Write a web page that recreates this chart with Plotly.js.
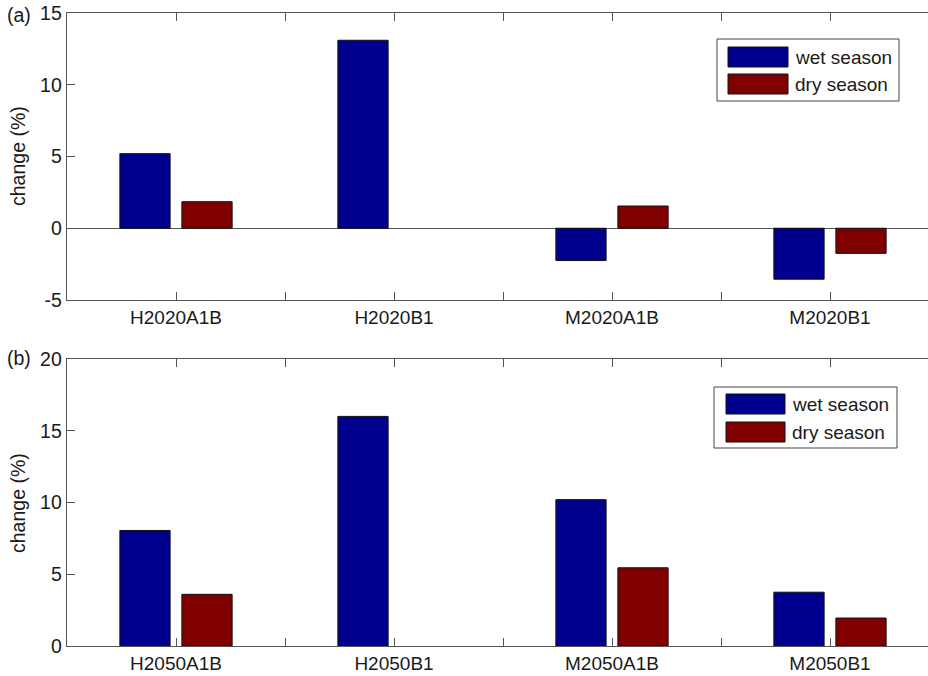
<!DOCTYPE html>
<html>
<head>
<meta charset="utf-8">
<script src="https://cdn.plot.ly/plotly-3.0.1.min.js"></script>
<style>
html,body{margin:0;padding:0;overflow:hidden;background:#fff;}
#chart{width:940px;height:676px;}
</style>
</head>
<body>
<div id="chart"></div>
<script>
// ---- data ----
const categoriesA = ["H2020A1B", "H2020B1", "M2020A1B", "M2020B1"];
const categoriesB = ["H2050A1B", "H2050B1", "M2050A1B", "M2050B1"];
const wetA = [5.2, 13.1, -2.25, -3.55];
const dryA = [1.85, null, 1.55, -1.75];
const wetB = [8.05, 16.0, 10.2, 3.75];
const dryB = [3.6, null, 5.45, 1.95];
const seriesNames = ["wet season", "dry season"];
const panelLabels = ["(a)", "(b)"];
const yTitle = "change (%)";
const yTicksA = [-5, 0, 5, 10, 15];
const yTicksB = [0, 5, 10, 15, 20];

// ---- styling ----
const BLUE = "#00008f";
const RED = "#800000";
const FONT = "Liberation Sans, Arial, sans-serif";
const TXT = "#1a1a1a";
const AX = "#555";

const W = 940, H = 676;
const M = {l: 67, r: 1, t: 13, b: 30};
const PW = W - M.l - M.r, PH = H - M.t - M.b;
const px2x = p => (p - M.l) / PW;
const py2y = p => (H - M.b - p) / PH;

const idx = arr => arr.map((_, i) => i + 1);

function barTrace(cats, vals, color, name, xa, ya) {
  return {
    type: "bar", x: idx(cats), y: vals, name: name,
    xaxis: xa, yaxis: ya, showlegend: false,
    marker: {color: color, line: {color: "#111", width: 1}},
    hoverinfo: "y"
  };
}

const data = [
  barTrace(categoriesA, wetA, BLUE, seriesNames[0], "x", "y"),
  barTrace(categoriesA, dryA, RED, seriesNames[1], "x", "y"),
  barTrace(categoriesB, wetB, BLUE, seriesNames[0], "x2", "y2"),
  barTrace(categoriesB, dryB, RED, seriesNames[1], "x2", "y2")
];

function tickSpec(cats) {
  const vals = [], text = [];
  for (let i = 0; i <= cats.length * 2; i++) {
    const v = 0.5 + i * 0.5;
    vals.push(v);
    text.push(Number.isInteger(v) ? cats[v - 1] : "");
  }
  return {vals, text};
}
const tA = tickSpec(categoriesA), tB = tickSpec(categoriesB);

const xBase = {
  range: [0.5, categoriesA.length + 0.5],
  showline: true, linecolor: AX, linewidth: 1.3, mirror: "ticks",
  ticks: "inside", ticklen: 8, tickcolor: AX, tickwidth: 1,
  showgrid: false, zeroline: false,
  tickfont: {family: FONT, size: 19, color: TXT},
  tickmode: "array", fixedrange: true
};
const yBase = {
  showline: true, linecolor: AX, linewidth: 1.3, mirror: "ticks",
  ticks: "inside", ticklen: 8, tickcolor: AX, tickwidth: 1,
  showgrid: false, tickmode: "array",
  tickfont: {family: FONT, size: 19.5, color: TXT},
  ticklabelstandoff: 0, fixedrange: true
};

const topDom = [py2y(300), 1];
const botDom = [0, py2y(359)];

// custom legends
function legend(box, sw1, sw2, textX) {
  const shapes = [
    {type: "rect", xref: "paper", yref: "paper", x0: px2x(box[0]), x1: px2x(box[1]), y0: py2y(box[3]), y1: py2y(box[2]),
     line: {color: "#444", width: 1}, fillcolor: "#fff"},
    {type: "rect", xref: "paper", yref: "paper", x0: px2x(sw1[0]), x1: px2x(sw1[1]), y0: py2y(sw1[3]), y1: py2y(sw1[2]),
     line: {color: "#111", width: 1}, fillcolor: BLUE},
    {type: "rect", xref: "paper", yref: "paper", x0: px2x(sw2[0]), x1: px2x(sw2[1]), y0: py2y(sw2[3]), y1: py2y(sw2[2]),
     line: {color: "#111", width: 1}, fillcolor: RED}
  ];
  const ann = [
    {xref: "paper", yref: "paper", x: px2x(textX), y: py2y((sw1[2] + sw1[3]) / 2), xanchor: "left", yanchor: "middle",
     text: seriesNames[0], showarrow: false, font: {family: FONT, size: 19, color: TXT}},
    {xref: "paper", yref: "paper", x: px2x(textX), y: py2y((sw2[2] + sw2[3]) / 2), xanchor: "left", yanchor: "middle",
     text: seriesNames[1], showarrow: false, font: {family: FONT, size: 19, color: TXT}}
  ];
  return {shapes, ann};
}
const legA = legend([717, 899, 39, 101], [728, 788, 47, 67], [728, 788, 74, 94], 793);
const legB = legend([714, 897, 387, 448], [726, 785, 394, 414], [726, 785, 422, 442], 790);

const annotations = [
  {xref: "paper", yref: "paper", x: px2x(5), y: py2y(15), xanchor: "left", yanchor: "middle",
   text: panelLabels[0], showarrow: false, font: {family: FONT, size: 19.5, color: TXT}},
  {xref: "paper", yref: "paper", x: px2x(5), y: py2y(358), xanchor: "left", yanchor: "middle",
   text: panelLabels[1], showarrow: false, font: {family: FONT, size: 19.5, color: TXT}},
  {xref: "paper", yref: "paper", x: px2x(18), y: py2y(156), xanchor: "center", yanchor: "middle",
   text: yTitle, textangle: -90, showarrow: false, font: {family: FONT, size: 19.5, color: TXT}},
  {xref: "paper", yref: "paper", x: px2x(18), y: py2y(503), xanchor: "center", yanchor: "middle",
   text: yTitle, textangle: -90, showarrow: false, font: {family: FONT, size: 19.5, color: TXT}}
].concat(legA.ann, legB.ann);

const layout = {
  width: W, height: H,
  margin: M,
  paper_bgcolor: "#fff", plot_bgcolor: "#fff",
  barmode: "group", bargap: 0.431, bargroupgap: 0.19,
  showlegend: false,
  xaxis: Object.assign({}, xBase, {domain: [0, 1], anchor: "y", tickvals: tA.vals, ticktext: tA.text}),
  yaxis: Object.assign({}, yBase, {domain: topDom, anchor: "x", range: [-5, 15],
    tickvals: yTicksA, ticktext: yTicksA.map(String),
    zeroline: true, zerolinecolor: AX, zerolinewidth: 1}),
  xaxis2: Object.assign({}, xBase, {domain: [0, 1], anchor: "y2", tickvals: tB.vals, ticktext: tB.text}),
  yaxis2: Object.assign({}, yBase, {domain: botDom, anchor: "x2", range: [0, 20],
    tickvals: yTicksB, ticktext: yTicksB.map(String), zeroline: false}),
  shapes: legA.shapes.concat(legB.shapes),
  annotations: annotations
};

Plotly.newPlot("chart", data, layout, {displayModeBar: false, staticPlot: true});
</script>
</body>
</html>
